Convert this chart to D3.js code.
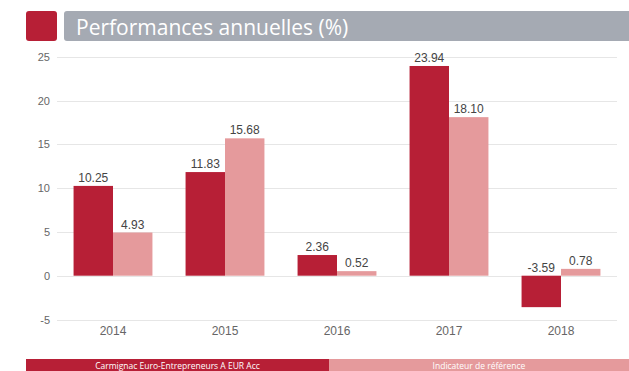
<!DOCTYPE html>
<html>
<head>
<meta charset="utf-8">
<script src="https://cdn.jsdelivr.net/npm/d3@7"></script>
<style>
  html, body { margin: 0; padding: 0; background: #fff; overflow: hidden; }
  svg { display: block; }
</style>
</head>
<body>
<svg id="chart" width="629" height="371"></svg>
<script>
// Annual performance by year, fund vs benchmark
const years = ["2014", "2015", "2016", "2017", "2018"];
const fundValues = [10.25, 11.83, 2.36, 23.94, -3.59];
const benchmarkValues = [4.93, 15.68, 0.52, 18.10, 0.78];
const seriesNames = ["Carmignac Euro-Entrepreneurs A EUR Acc", "Indicateur de référence"];
const seriesColors = ["#b71f36", "#e59a9c"];
const yTicks = [-5, 0, 5, 10, 15, 20, 25];
const titleText = "Performances annuelles (%)";

const svg = d3.select("#chart");
const W = 629, H = 371;

// Header: red square + grey title band
svg.append("rect").attr("x", 26).attr("y", 11).attr("width", 31).attr("height", 30)
  .attr("rx", 3).attr("fill", "#b71f36");
svg.append("rect").attr("x", 64).attr("y", 11).attr("width", W - 64 + 5).attr("height", 30)
  .attr("rx", 3).attr("fill", "#a5aab3");
svg.append("text").attr("x", 76).attr("y", 35)
  .attr("font-family", "'Open Sans', sans-serif").attr("font-size", 21)
  .attr("fill", "#fff").text(titleText);

// Scales
const x0 = d3.scaleBand().domain(years).range([57, 617]).padding(0);
const x1 = d3.scaleBand().domain(seriesNames).range([0, x0.bandwidth()])
  .paddingInner(0).paddingOuter(0.42);
const y = d3.scaleLinear().domain([-5, 25]).range([319.5, 56.7]);

// Grid lines
svg.append("g").selectAll("line").data(yTicks).join("line")
  .attr("x1", 57).attr("x2", 617)
  .attr("y1", d => Math.round(y(d)) + 0.5).attr("y2", d => Math.round(y(d)) + 0.5)
  .attr("stroke", "#e6e6e6").attr("stroke-width", 1);

// Y axis labels (plain hyphen for negatives)
const yAxis = d3.axisLeft(y).tickValues(yTicks).tickSize(0).tickPadding(0)
  .tickFormat(d => String(d));
const gy = svg.append("g").attr("transform", "translate(50,0)").call(yAxis);
gy.select(".domain").remove();
gy.selectAll("text").attr("font-family", "'Liberation Sans', Arial, sans-serif")
  .attr("font-size", 11).attr("fill", "#666");

// X axis labels
const xAxis = d3.axisBottom(x0).tickSize(0).tickPadding(0);
const gx = svg.append("g").attr("transform", "translate(0,326)").call(xAxis);
gx.select(".domain").remove();
gx.selectAll("text").attr("font-family", "'Liberation Sans', Arial, sans-serif")
  .attr("font-size", 12).attr("fill", "#666");

// Bars
const rows = years.map((yr, i) => ({
  year: yr,
  vals: [
    { s: seriesNames[0], v: fundValues[i], c: seriesColors[0] },
    { s: seriesNames[1], v: benchmarkValues[i], c: seriesColors[1] }
  ]
}));

const groups = svg.append("g").selectAll("g").data(rows).join("g")
  .attr("transform", d => `translate(${x0(d.year)},0)`);

groups.selectAll("rect").data(d => d.vals).join("rect")
  .attr("x", d => x1(d.s))
  .attr("width", x1.bandwidth())
  .attr("y", d => y(Math.max(0, d.v)))
  .attr("height", d => Math.abs(y(d.v) - y(0)))
  .attr("fill", d => d.c);

groups.selectAll("text").data(d => d.vals).join("text")
  .attr("x", d => x1(d.s) + x1.bandwidth() / 2)
  .attr("y", d => y(Math.max(0, d.v)) - 4)
  .attr("text-anchor", "middle")
  .attr("font-family", "'Liberation Sans', Arial, sans-serif")
  .attr("font-size", 12).attr("fill", "#444")
  .text(d => d.v.toFixed(2));

// Legend strip
const legW = [303, 300];
svg.append("rect").attr("x", 26).attr("y", 359).attr("width", legW[0]).attr("height", 14).attr("fill", seriesColors[0]);
svg.append("rect").attr("x", 329).attr("y", 359).attr("width", legW[1]).attr("height", 14).attr("fill", seriesColors[1]);
svg.append("text").attr("x", 26 + legW[0] / 2).attr("y", 369).attr("text-anchor", "middle")
  .attr("font-family", "'Open Sans', sans-serif").attr("font-size", 8.5).attr("fill", "#fff")
  .text(seriesNames[0]);
svg.append("text").attr("x", 329 + legW[1] / 2).attr("y", 369).attr("text-anchor", "middle")
  .attr("font-family", "'Open Sans', sans-serif").attr("font-size", 8.5).attr("fill", "#fff")
  .text(seriesNames[1]);
</script>
</body>
</html>
